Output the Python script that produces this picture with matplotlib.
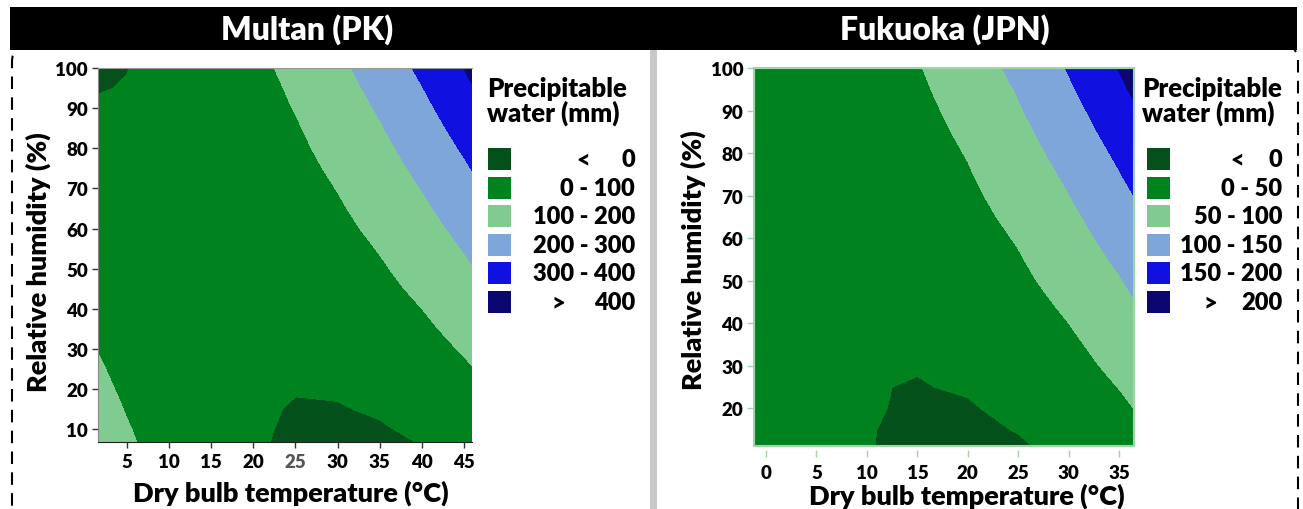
import numpy as np
import matplotlib
matplotlib.use('Agg')
import matplotlib.pyplot as plt
from matplotlib.patches import Rectangle, FancyBboxPatch

plt.rcParams['font.family'] = ['Lato', 'DejaVu Sans']
plt.rcParams['font.weight'] = 'heavy'

# ---------------- data ----------------
# Multan (PK): precipitable water (mm) on a temperature x humidity grid
multan_temp = [0, 5, 10, 15, 20, 25, 30, 35, 40, 45, 50]
multan_rh = [5, 10, 15, 20, 25, 30, 35, 40, 45, 50,
             55, 60, 65, 70, 75, 80, 85, 90, 95, 100]
multan_pw = [
    [169, 114, 68, 32, 6, -11, -17, -15, -2, 20, 51],
    [156, 105, 62, 30, 7, -7, -10, -5, 11, 36, 71],
    [144, 96, 57, 27, 7, -3, -3, 6, 25, 54, 92],
    [132, 87, 51, 25, 9, 2, 5, 17, 39, 71, 112],
    [121, 79, 46, 23, 10, 7, 13, 28, 54, 89, 134],
    [110, 71, 42, 22, 12, 12, 21, 40, 69, 107, 155],
    [99, 63, 37, 21, 14, 17, 30, 52, 84, 126, 177],
    [89, 56, 34, 20, 17, 23, 39, 65, 100, 145, 199],
    [79, 49, 30, 20, 20, 30, 49, 78, 116, 164, 222],
    [69, 43, 27, 20, 23, 36, 59, 91, 132, 184, 245],
    [60, 37, 24, 21, 27, 43, 69, 104, 149, 204, 268],
    [51, 31, 22, 22, 31, 51, 80, 118, 166, 224, 292],
    [42, 26, 20, 23, 36, 58, 91, 132, 184, 245, 316],
    [34, 21, 18, 24, 41, 66, 102, 147, 202, 266, 340],
    [26, 16, 17, 26, 46, 75, 114, 162, 220, 288, 365],
    [18, 12, 16, 29, 51, 84, 126, 177, 239, 310, 390],
    [11, 8, 15, 31, 57, 93, 138, 193, 258, 332, 416],
    [3, 5, 15, 34, 64, 103, 151, 209, 277, 355, 442],
    [-4, 2, 15, 38, 70, 112, 164, 226, 297, 378, 468],
    [-10, -1, 15, 42, 77, 123, 178, 243, 317, 401, 495],
]
multan_levels = [-1000, 0, 100, 200, 300, 400, 2000]
multan_labels = ['0 - 100', '100 - 200', '200 - 300', '300 - 400']
multan_ends = ['0', '400']

# Fukuoka (JPN)
fukuoka_temp = [-5, 0, 5, 10, 15, 20, 25, 30, 35, 40]
fukuoka_rh = [10, 15, 20, 25, 30, 35, 40, 45, 50, 55,
              60, 65, 70, 75, 80, 85, 90, 95, 100]
fukuoka_pw = [
    [71, 42, 19, 1, -6, -8, -4, 7, 25, 49],
    [66, 38, 17, 1, -4, -5, 1, 14, 33, 60],
    [61, 35, 16, 2, -3, -2, 6, 21, 42, 70],
    [56, 32, 14, 1, -1, 2, 12, 28, 51, 80],
    [51, 28, 13, 4, 1, 6, 17, 35, 60, 91],
    [46, 25, 11, 4, 4, 10, 23, 42, 69, 102],
    [42, 23, 10, 5, 6, 14, 28, 50, 78, 113],
    [37, 20, 9, 6, 8, 18, 34, 58, 88, 124],
    [33, 18, 9, 6, 11, 22, 41, 66, 97, 136],
    [29, 15, 8, 8, 14, 27, 47, 74, 107, 147],
    [25, 13, 8, 9, 17, 32, 53, 82, 117, 159],
    [21, 11, 7, 10, 20, 37, 60, 90, 127, 170],
    [18, 9, 7, 12, 24, 42, 67, 99, 137, 182],
    [14, 8, 7, 14, 27, 47, 74, 107, 148, 195],
    [11, 6, 7, 16, 31, 52, 81, 116, 158, 207],
    [8, 5, 8, 18, 34, 58, 88, 125, 169, 219],
    [5, 3, 8, 20, 38, 64, 96, 134, 180, 232],
    [2, 2, 9, 22, 43, 69, 103, 144, 191, 245],
    [0, 2, 10, 25, 47, 76, 111, 153, 202, 258],
]
fukuoka_levels = [-1000, 0, 50, 100, 150, 200, 2000]
fukuoka_labels = ['0 - 50', '50 - 100', '100 - 150', '150 - 200']
fukuoka_ends = ['0', '200']

colors = ['#04501A', '#00821F', '#80CC90', '#7EA6D8', '#1010E0', '#0A0870']

# ---------------- figure ----------------
W, H = 1303, 510
fig = plt.figure(figsize=(W / 100, H / 100), dpi=100)


def fx(px):
    return px / W


def fy(py):
    return 1 - py / H


# dashed outer frame, black title bar, grey separator
frame = FancyBboxPatch((0.12, -0.6), 12.86, 5.25,
                       boxstyle='round,pad=0,rounding_size=0.18',
                       transform=fig.dpi_scale_trans, fill=False,
                       ec='black', lw=1.5, ls=(0, (6, 4)), zorder=1)
fig.add_artist(frame)
fig.add_artist(Rectangle((0.10, 4.59), 12.87, 0.43, transform=fig.dpi_scale_trans,
                         fc='black', ec='none', zorder=5))
fig.add_artist(Rectangle((6.50, -0.1), 0.07, 4.70, transform=fig.dpi_scale_trans,
                         fc='#c8c8c8', ec='none', zorder=2))

fig.text(fx(307), fy(30), 'Multan (PK)', color='white', fontsize=23,
         ha='center', va='center', zorder=6)
fig.text(fx(945), fy(30), 'Fukuoka (JPN)', color='white', fontsize=23,
         ha='center', va='center', zorder=6)

ax1 = fig.add_axes([fx(97.7), fy(442.7), fx(374), 373.4 / H])
ax2 = fig.add_axes([fx(754.3), fy(447.3), fx(379.7), 378 / H])

ax1.contourf(multan_temp, multan_rh, multan_pw, levels=multan_levels, colors=colors)
ax2.contourf(fukuoka_temp, fukuoka_rh, fukuoka_pw, levels=fukuoka_levels, colors=colors)

ax1.set_xlim(1.56, 45.9)
ax1.set_ylim(6.8, 100)
ax1.set_xticks(range(5, 46, 5))
ax1.set_yticks(range(10, 101, 10))
ax2.set_xlim(-1.16, 36.46)
ax2.set_ylim(11.06, 100)
ax2.set_xticks(range(0, 36, 5))
ax2.set_yticks(range(20, 101, 10))

green_edge = '#9fd6a8'
ax1.tick_params(length=4, width=1, color='#333333', labelsize=13.5, pad=3)
ax1.tick_params(axis='x', pad=4)
ax2.tick_params(length=5, width=1, color=green_edge, labelsize=13.5, pad=3)
ax2.tick_params(axis='x', pad=5)
for ax in (ax1, ax2):
    for lab in ax.get_xticklabels() + ax.get_yticklabels():
        lab.set_fontweight('heavy')

ax1.get_xticklabels()[4].set_color('#555555')
ax1.spines['right'].set_visible(False)
ax1.spines['top'].set_color('#999999')
ax1.spines['top'].set_linewidth(0.8)
ax1.spines['left'].set_color('#888888')
ax1.spines['bottom'].set_color('#222222')

for s in ['top', 'right', 'left']:
    ax2.spines[s].set_color(green_edge)
ax2.spines['bottom'].set_position(('outward', 3))
ax2.spines['bottom'].set_color('none')
ax2.add_patch(Rectangle((0, 0), 1, 1, transform=ax2.transAxes, fill=False,
                        ec=green_edge, lw=1.5, clip_on=False))

# axis titles
for cx, cy, txt in [(38, 262, 'Relative humidity (%)'), (693, 260, 'Relative humidity (%)')]:
    fig.text(fx(cx), fy(cy), txt, rotation=90, fontsize=19.5, ha='center', va='center')
for cx, cy, txt in [(291, 493, 'Dry bulb temperature (°C)'), (967, 496, 'Dry bulb temperature (°C)')]:
    fig.text(fx(cx), fy(cy), txt, fontsize=19.5, ha='center', va='center')


# legends
def legend(sq_x, txt_r, title_x, lt_x, gt_x, labels, ends):
    fig.text(fx(title_x), fy(77), 'Precipitable\nwater (mm)', fontsize=18.5,
             ha='left', va='top', linespacing=0.98)
    for i in range(6):
        yc = 160 + 28.6 * i
        fig.add_artist(Rectangle((fx(sq_x), fy(yc + 11)), fx(23), 22 / H,
                                 transform=fig.transFigure, fc=colors[i], ec='none'))
        if i == 0:
            fig.text(fx(lt_x), fy(yc), '<', fontsize=17, ha='center', va='center')
            fig.text(fx(txt_r), fy(yc), ends[0], fontsize=17, ha='right', va='center')
        elif i == 5:
            fig.text(fx(gt_x), fy(yc), '>', fontsize=17, ha='center', va='center')
            fig.text(fx(txt_r), fy(yc), ends[1], fontsize=17, ha='right', va='center')
        else:
            fig.text(fx(txt_r), fy(yc), labels[i - 1], fontsize=17, ha='right', va='center')


legend(488, 635, 487, 583, 558, multan_labels, multan_ends)
legend(1147, 1282, 1142, 1237, 1210, fukuoka_labels, fukuoka_ends)

fig.savefig('out.png', dpi=100)
